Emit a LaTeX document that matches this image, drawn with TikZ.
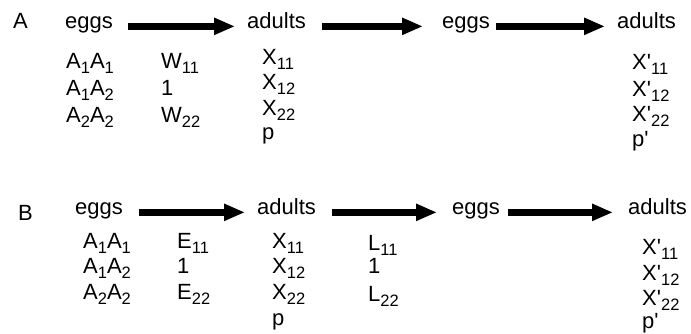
\documentclass[tikz,border=0pt]{standalone}
\usepackage{fontspec}
\newfontfamily\hv{Liberation Sans}
\usetikzlibrary{arrows.meta}
% lowered, smaller index (genotype numbers)
\newcommand{\ix}[1]{\raisebox{-5pt}{\fontsize{16.5}{16.5}\selectfont #1}}
\begin{document}
\begin{tikzpicture}[x=1pt,y=-1pt,
  lbl/.style={anchor=base west, inner sep=0pt, font=\hv\fontsize{22}{22}\selectfont},
  bigarrow/.style={line width=6.5pt, -{Triangle[length=21pt,width=16pt]}}]
\useasboundingbox (0,0) rectangle (691,333);

% ---------- panel A ----------
\node[lbl] (labA) at (13,28.5) {A};
\node[lbl] (eA1) at (65,28.5) {eggs};
\node[lbl] (aA1) at (247,28.5) {adults};
\node[lbl] (eA2) at (442,28.5) {eggs};
\node[lbl] (aA2) at (617,28.5) {adults};
\draw[bigarrow, shorten <=15pt, shorten >=12pt] (eA1.mid east) -- (aA1.mid west);
\draw[bigarrow, shorten <=16pt, shorten >=19pt] (aA1.mid east) -- (eA2.mid west);
\draw[bigarrow, shorten <=6pt, shorten >=12pt] (eA2.mid east) -- (aA2.mid west);

\node[lbl] (gA1) at (66,68) {A\ix{1}A\ix{1}};
\node[lbl] (gA2) at (66,95) {A\ix{1}A\ix{2}};
\node[lbl] (gA3) at (66,122) {A\ix{2}A\ix{2}};
\node[lbl] (wA1) at (161,68) {W\ix{11}};
\node[lbl] (wA2) at (161,95) {1};
\node[lbl] (wA3) at (161,122) {W\ix{22}};
\node[lbl] (xA1) at (262,64) {X\ix{11}};
\node[lbl] (xA2) at (262,89.5) {X\ix{12}};
\node[lbl] (xA3) at (262,115) {X\ix{22}};
\node[lbl] (pA)  at (262,139) {p};
\node[lbl] (yA1) at (632,69.5) {X'\ix{11}};
\node[lbl] (yA2) at (632,96.5) {X'\ix{12}};
\node[lbl] (yA3) at (632,121.5) {X'\ix{22}};
\node[lbl] (qA)  at (632,146) {p'};

% ---------- panel B ----------
\node[lbl] (labB) at (18,220) {B};
\node[lbl] (eB1) at (75,214.5) {eggs};
\node[lbl] (aB1) at (257,214.5) {adults};
\node[lbl] (eB2) at (452,214.5) {eggs};
\node[lbl] (aB2) at (628,214.5) {adults};
\draw[bigarrow, shorten <=16pt, shorten >=12pt] (eB1.mid east) -- (aB1.mid west);
\draw[bigarrow, shorten <=16pt, shorten >=15pt] (aB1.mid east) -- (eB2.mid west);
\draw[bigarrow, shorten <=8pt, shorten >=15pt] (eB2.mid east) -- (aB2.mid west);

\node[lbl] (gB1) at (83,248) {A\ix{1}A\ix{1}};
\node[lbl] (gB2) at (83,273) {A\ix{1}A\ix{2}};
\node[lbl] (gB3) at (83,299) {A\ix{2}A\ix{2}};
\node[lbl] (vB1) at (177,248) {E\ix{11}};
\node[lbl] (vB2) at (177,273) {1};
\node[lbl] (vB3) at (177,299) {E\ix{22}};
\node[lbl] (xB1) at (272,248) {X\ix{11}};
\node[lbl] (xB2) at (272,273) {X\ix{12}};
\node[lbl] (xB3) at (272,299) {X\ix{22}};
\node[lbl] (pB)  at (272,325) {p};
\node[lbl] (lB1) at (368,250) {L\ix{11}};
\node[lbl] (lB2) at (368,273) {1};
\node[lbl] (lB3) at (368,301) {L\ix{22}};
\node[lbl] (yB1) at (642,254) {X'\ix{11}};
\node[lbl] (yB2) at (642,280) {X'\ix{12}};
\node[lbl] (yB3) at (642,305) {X'\ix{22}};
\node[lbl] (qB)  at (642,328) {p'};
\end{tikzpicture}
\end{document}
